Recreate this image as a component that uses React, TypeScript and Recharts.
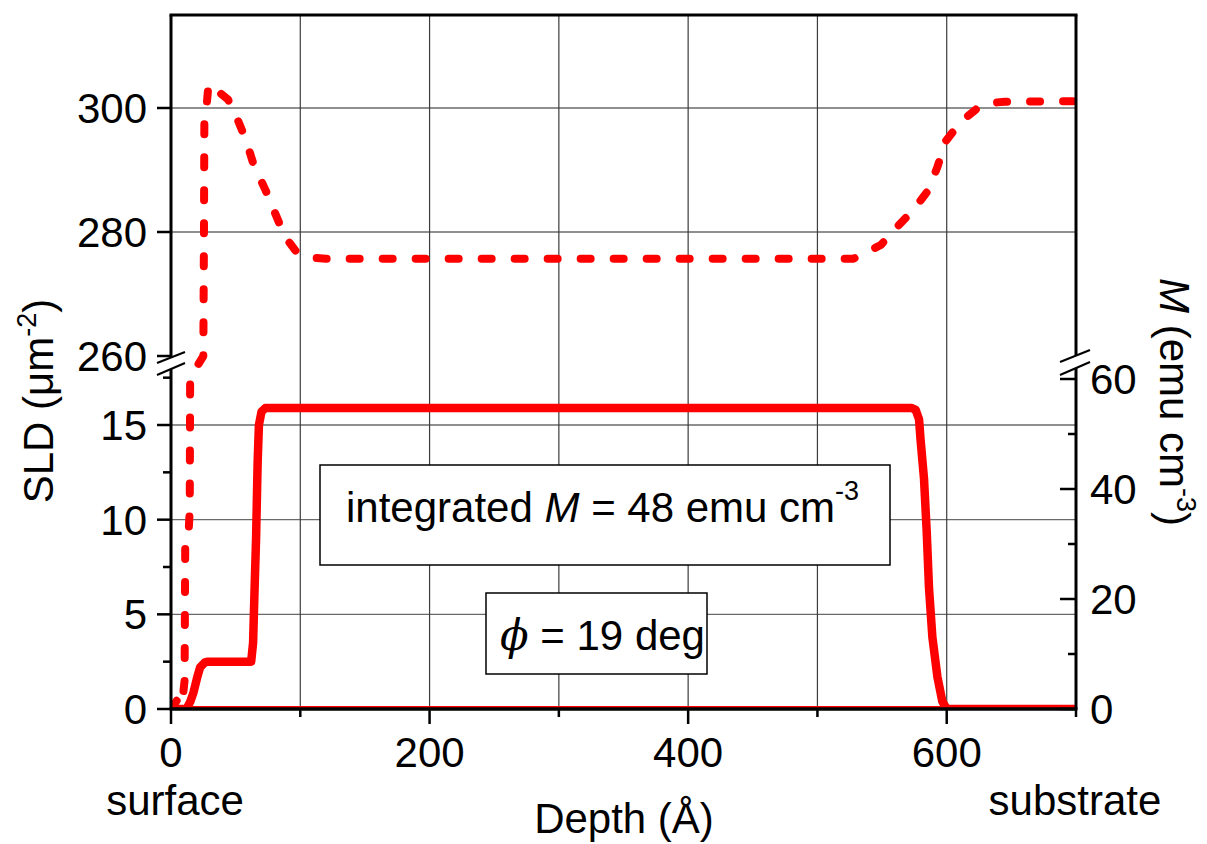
import React from 'react';
import { LineChart, Line, XAxis, YAxis, CartesianGrid } from 'recharts';

// dashed curve: depth (Å) and SLD (µm^-2)
const nucDepth = [0, 5, 8.5, 10.5, 11, 13.5, 14.5, 14.8, 25, 25.5, 25.8, 27, 29, 33, 38, 44, 51, 58, 64, 73, 81, 88, 97, 107, 120, 528, 534, 549, 562, 574, 586, 593, 599, 611, 624, 632, 645, 700];
const nucSld = [0, 0.5, 0.2, 1.5, 8.5, 9.2, 10.5, 17.5, 259, 280, 297.5, 299, 303.8, 303.4, 302.4, 301.4, 298.4, 294.8, 290.8, 286.8, 282.8, 279.3, 276.8, 275.9, 275.7, 275.7, 276.3, 277.9, 280.9, 283.5, 286.8, 290.6, 294.6, 297.8, 300, 300.8, 301, 301.1];

// solid curve (magnetic part)
const magDepth = [0, 12, 15, 17.3, 20, 22.5, 26, 28, 62, 63.5, 64.5, 65.8, 67, 68, 70, 73, 573, 576, 578.6, 579.8, 582.4, 584.5, 586.3, 588.9, 592.8, 596.6, 600, 700];
const magSld = [0, 0, 0.4, 0.85, 1.6, 2.2, 2.45, 2.5, 2.5, 3.5, 6, 9, 13, 15, 15.7, 15.9, 15.9, 15.8, 15.3, 14.2, 12.2, 9.4, 6.4, 3.8, 1.7, 0.4, 0, 0];

// flat line along zero (M axis)
const baseDepth = [0, 700];
const baseM = [0, 0];

const sldMajor = [0, 5, 10, 15, 260, 280, 300];
const sldMinor = [2.5, 7.5, 12.5, 17.5];
const mMajor = [0, 20, 40, 60];
const mMinor = [10, 30, 50];
const depthMajor = [0, 200, 400, 600];
const depthMinor = [100, 300, 500, 700];
const sldGrid = [5, 10, 15, 280, 300];
const depthGrid = [100, 200, 300, 400, 500, 600];

// broken y axis: lower part 0..17.8 and upper part from 260, on one shared scale
const LOW_TOP = 17.8;
const LOW_H = 337;
const UP_BASE = 260;
const UP_H = 353;
const UP_RATE = 6.2;
const M_RATE = 5.5;
const AXIS_MAX = 694;

function sldToAxis(v: number) {
  if (v <= LOW_TOP) return (v * LOW_H) / LOW_TOP;
  if (v < UP_BASE) return LOW_H + ((v - LOW_TOP) / (UP_BASE - LOW_TOP)) * (UP_H - LOW_H);
  return UP_H + (v - UP_BASE) * UP_RATE;
}
const mToAxis = (v: number) => v * M_RATE;

const font = "'Liberation Sans', Arial, sans-serif";
const FS = 42;

const nucRows = nucDepth.map((d, i) => ({ x: d, y: sldToAxis(nucSld[i]) }));
const magRows = magDepth.map((d, i) => ({ x: d, y: sldToAxis(magSld[i]) }));
const baseRows = baseDepth.map((d, i) => ({ x: d, y: mToAxis(baseM[i]) }));

const findMajor = (list: number[], conv: (v: number) => number, value: number) =>
  list.find((v) => Math.abs(conv(v) - value) < 0.01);

function LeftTick(props: any) {
  const { x, y, payload } = props;
  const major = findMajor(sldMajor, sldToAxis, payload.value);
  const len = major !== undefined ? 14 : 8;
  return (
    <g>
      <line x1={x - len} x2={x} y1={y} y2={y} stroke='#000' strokeWidth={2.5} />
      {major !== undefined && (
        <text x={x - 24} y={y} dy='0.36em' textAnchor='end' fontSize={FS} fontFamily={font} fill='#000'>
          {major}
        </text>
      )}
    </g>
  );
}

function RightTick(props: any) {
  const { x, y, payload } = props;
  const major = findMajor(mMajor, mToAxis, payload.value);
  const len = major !== undefined ? 16 : 8;
  return (
    <g>
      <line x1={x - len} x2={x} y1={y} y2={y} stroke='#000' strokeWidth={2.5} />
      {major !== undefined && (
        <text x={x + 14} y={y} dy='0.36em' textAnchor='start' fontSize={FS} fontFamily={font} fill='#000'>
          {major}
        </text>
      )}
    </g>
  );
}

function BottomTick(props: any) {
  const { x, y, payload } = props;
  const major = depthMajor.includes(payload.value);
  const len = major ? 15 : 8;
  return (
    <g>
      <line x1={x} x2={x} y1={y} y2={y + len} stroke='#000' strokeWidth={2.5} />
      {major && (
        <text x={x} y={y + 58} textAnchor='middle' fontSize={FS} fontFamily={font} fill='#000'>
          {payload.value}
        </text>
      )}
    </g>
  );
}

export default function App() {
  return (
    <div style={{ position: 'absolute', left: 0, top: 0, width: 1207, height: 844, background: '#fff' }}>
      <LineChart width={1207} height={844} margin={{ top: 15, right: 31, bottom: 55, left: 61 }}>
        <CartesianGrid yAxisId='left' vertical={false} horizontalValues={sldGrid.map(sldToAxis)} stroke='#6a6a6a' strokeWidth={1.3} />
        <CartesianGrid yAxisId='left' horizontal={false} verticalValues={depthGrid} stroke='#3c3c3c' strokeWidth={1.2} />
        <YAxis
          yAxisId='left'
          type='number'
          domain={[0, AXIS_MAX]}
          allowDataOverflow
          ticks={[...sldMajor, ...sldMinor].map(sldToAxis)}
          interval={0}
          tick={<LeftTick />}
          tickLine={false}
          tickSize={0}
          tickMargin={0}
          width={110}
          axisLine={{ stroke: '#000', strokeWidth: 3 }}
        />
        <YAxis
          yAxisId='right'
          orientation='right'
          type='number'
          domain={[0, AXIS_MAX]}
          allowDataOverflow
          ticks={[...mMajor, ...mMinor].map(mToAxis)}
          interval={0}
          tick={<RightTick />}
          tickLine={false}
          tickSize={0}
          tickMargin={0}
          width={100}
          axisLine={{ stroke: '#000', strokeWidth: 3 }}
        />
        <Line yAxisId='right' data={baseRows} dataKey='y' stroke='#ff0000' strokeWidth={6} dot={false} isAnimationActive={false} />
        <Line
          yAxisId='left'
          data={nucRows}
          dataKey='y'
          stroke='#ff0000'
          strokeWidth={8}
          strokeDasharray='10 23'
          strokeLinecap='round'
          strokeLinejoin='round'
          dot={false}
          isAnimationActive={false}
        />
        <Line
          yAxisId='left'
          data={magRows}
          dataKey='y'
          stroke='#ff0000'
          strokeWidth={8.5}
          strokeLinecap='round'
          strokeLinejoin='round'
          dot={false}
          isAnimationActive={false}
        />
        <XAxis
          dataKey='x'
          type='number'
          domain={[0, 700]}
          allowDataOverflow
          ticks={[...depthMajor, ...depthMinor].sort((a, b) => a - b)}
          interval={0}
          tick={<BottomTick />}
          tickLine={false}
          tickSize={0}
          tickMargin={0}
          height={80}
          axisLine={{ stroke: '#000', strokeWidth: 3 }}
        />
      </LineChart>

      <svg width={1207} height={844} style={{ position: 'absolute', left: 0, top: 0, pointerEvents: 'none' }} fontFamily={font}>
        {/* frame lines kept above the red zero line */}
        <line x1={169.5} x2={1077.5} y1={15} y2={15} stroke='#000' strokeWidth={3} />
        <line x1={169.5} x2={1077.5} y1={709} y2={709} stroke='#000' strokeWidth={3} />

        {/* axis break marks */}
        <polygon points='163,360 179,354 179,365.5 163,372' fill='#fff' />
        <line x1={157} y1={363} x2={185} y2={352} stroke='#000' strokeWidth={2} />
        <line x1={157} y1={375} x2={185} y2={363} stroke='#000' strokeWidth={2} />
        <polygon points='1068,358.5 1084,352.5 1084,364.5 1068,371.5' fill='#fff' />
        <line x1={1060} y1={362} x2={1090} y2={350} stroke='#000' strokeWidth={2} />
        <line x1={1060} y1={375} x2={1090} y2={362} stroke='#000' strokeWidth={2} />

        {/* axis titles */}
        <text transform='translate(53,401) rotate(-90)' textAnchor='middle' fontSize={FS} fill='#000'>
          SLD (μm<tspan dy={-17} fontSize={27}>-2</tspan>
          <tspan dy={17}>)</tspan>
        </text>
        <text transform='translate(1160,402) rotate(90)' textAnchor='middle' fontSize={FS} fill='#000'>
          <tspan fontStyle='italic'>M</tspan> (emu cm<tspan dy={-17} fontSize={27}>-3</tspan>
          <tspan dy={17}>)</tspan>
        </text>
        <text x={175} y={815} textAnchor='middle' fontSize={FS} fill='#000'>surface</text>
        <text x={1075} y={815} textAnchor='middle' fontSize={FS} fill='#000'>substrate</text>
        <text x={624} y={833} textAnchor='middle' fontSize={FS} fill='#000'>Depth (Å)</text>

        {/* annotation boxes */}
        <rect x={320} y={465} width={570} height={100} fill='#fff' stroke='#000' strokeWidth={1.5} />
        <text x={346} y={522} fontSize={FS} fill='#000'>
          integrated <tspan fontStyle='italic'>M</tspan> = 48 emu cm<tspan dy={-22} fontSize={27}>-3</tspan>
        </text>
        <rect x={486} y={593} width={221} height={81} fill='#fff' stroke='#000' strokeWidth={1.5} />
        <text x={500} y={650} fontSize={FS} fill='#000'>
          <tspan fontStyle='italic' fontFamily="'DejaVu Serif', serif">ϕ</tspan> = 19 deg
        </text>
      </svg>
    </div>
  );
}
